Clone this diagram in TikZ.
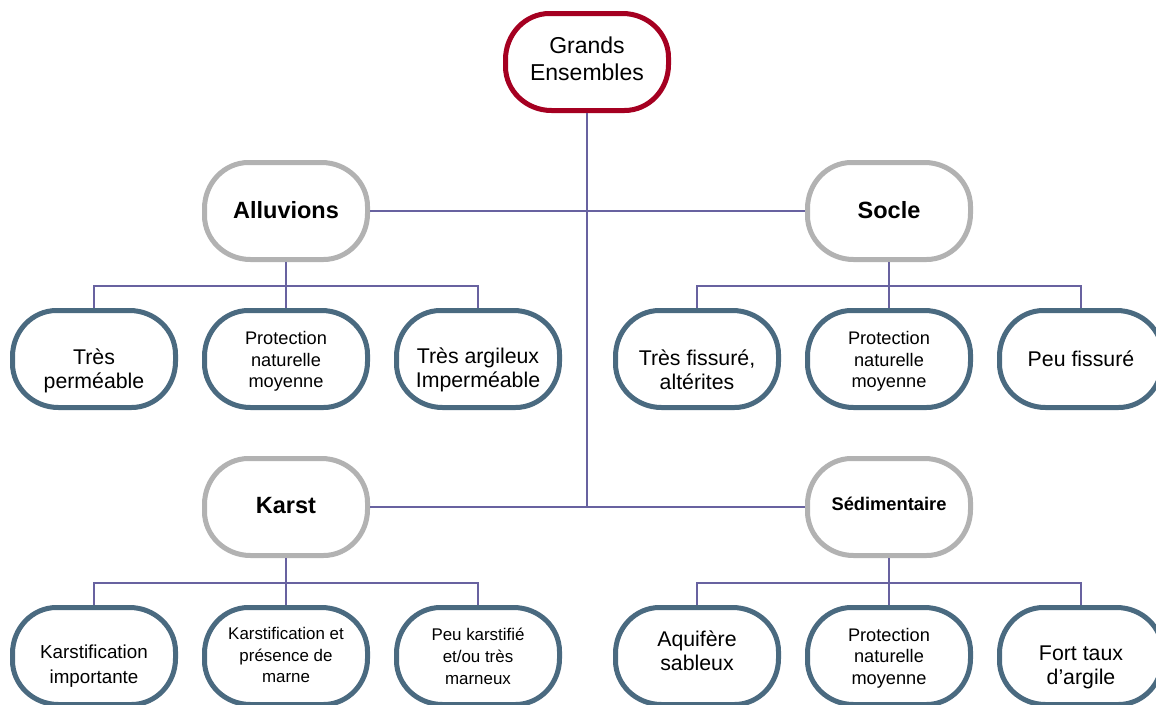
\documentclass[tikz,border=0pt]{standalone}
\usepackage{fontspec}
\setmainfont{Liberation Sans}
\definecolor{geRed}{RGB}{165,0,33}
\definecolor{grpGray}{RGB}{178,178,178}
\definecolor{leafBlue}{RGB}{74,106,128}
\definecolor{linkPurple}{RGB}{104,98,160}
\tikzset{
  pill/.code={\pgfsetcornersarced{\pgfpoint{44pt}{46pt}}},
  boxbase/.style={draw, fill=white, pill, minimum width=163pt, minimum height=97pt, line width=5pt, inner sep=0pt},
  rootbox/.style={boxbase, draw=geRed},
  grpbox/.style={boxbase, draw=grpGray},
  leafbox/.style={boxbase, draw=leafBlue},
  txt/.style={align=center, inner sep=0pt},
  link/.style={draw=linkPurple, line width=1.8pt},
  fBig/.style={txt, font=\fontsize{21.3}{24}\selectfont},
  fProt/.style={txt, font=\fontsize{18.2}{21.7}\selectfont},
  fMid/.style={txt, font=\fontsize{16.9}{21.8}\selectfont},
  fRoot/.style={txt, font=\fontsize{23}{27}\selectfont},
  fGrp/.style={txt, font=\bfseries\fontsize{23.5}{26}\selectfont},
  fGrpS/.style={txt, font=\bfseries\fontsize{18.3}{21}\selectfont}
}
\begin{document}
\begin{tikzpicture}[x=1pt,y=-1pt]
\useasboundingbox (0,0) rectangle (1156,704);
\clip (0,0) rectangle (1156,704);
\fill[white] (0,0) rectangle (1156,704);

% box nodes
\node[rootbox] (ge) at (587,62) {};
\node[grpbox] (all) at (286,211) {};
\node[grpbox] (soc) at (889,211) {};
\node[grpbox] (kar) at (286,507) {};
\node[grpbox] (sed) at (889,507) {};

\node[leafbox] (a1) at (94,359) {};
\node[leafbox] (a2) at (286,359) {};
\node[leafbox] (a3) at (478,359) {};
\node[leafbox] (s1) at (697,359) {};
\node[leafbox] (s2) at (889,359) {};
\node[leafbox] (s3) at (1081,359) {};

\node[leafbox] (k1) at (94,656) {};
\node[leafbox] (k2) at (286,656) {};
\node[leafbox] (k3) at (478,656) {};
\node[leafbox] (d1) at (697,656) {};
\node[leafbox] (d2) at (889,656) {};
\node[leafbox] (d3) at (1081,656) {};

% texts
\node[fRoot] (get) at (587,59) {Grands\\Ensembles};
\node[fGrp] (allt) at (286,210) {Alluvions};
\node[fGrp] (soct) at (889,210) {Socle};
\node[fGrp] (kart) at (286,506) {Karst};
\node[fGrpS] (sedt) at (889,503.5) {Sédimentaire};

\node[fBig] (a1t) at (94,370.5) {Très\\perméable};
\node[fProt] (a2t) at (286,361.5) {Protection\\naturelle\\moyenne};
\node[fBig] (a3t) at (478,369.5) {Très argileux\\Imperméable};
\node[fBig] (s1t) at (697,369.5) {Très fissuré,\\altérites};
\node[fProt] (s2t) at (889,361.5) {Protection\\naturelle\\moyenne};
\node[fBig] (s3t) at (1081,359) {Peu fissuré};

\node[txt, font=\fontsize{18.8}{24.5}\selectfont] (k1t) at (94,666) {Karstification\\importante};
\node[fMid] (k2t) at (286,655) {Karstification et\\présence de\\marne};
\node[fMid] (k3t) at (478,656.5) {Peu karstifié\\et/ou très\\marneux};
\node[fBig] (d1t) at (697,650.5) {Aquifère\\sableux};
\node[fProt] (d2t) at (889,658) {Protection\\naturelle\\moyenne};
\node[fBig] (d3t) at (1081,667.5) {Fort taux\\d’argile};

% connectors
\coordinate (trunkEnd) at (ge.south |- kar.east);
\path[link] (ge.south) -- (trunkEnd);
\path[link] (all.east) -- (soc.west);
\path[link] (kar.east) -- (sed.west);

\path[link] (all.south) -- (a2.north);
\path[link] (a1.north) -- ++(0,-22) -| (a3.north);
\path[link] (soc.south) -- (s2.north);
\path[link] (s1.north) -- ++(0,-22) -| (s3.north);
\path[link] (kar.south) -- (k2.north);
\path[link] (k1.north) -- ++(0,-22) -| (k3.north);
\path[link] (sed.south) -- (d2.north);
\path[link] (d1.north) -- ++(0,-22) -| (d3.north);
\end{tikzpicture}
\end{document}
